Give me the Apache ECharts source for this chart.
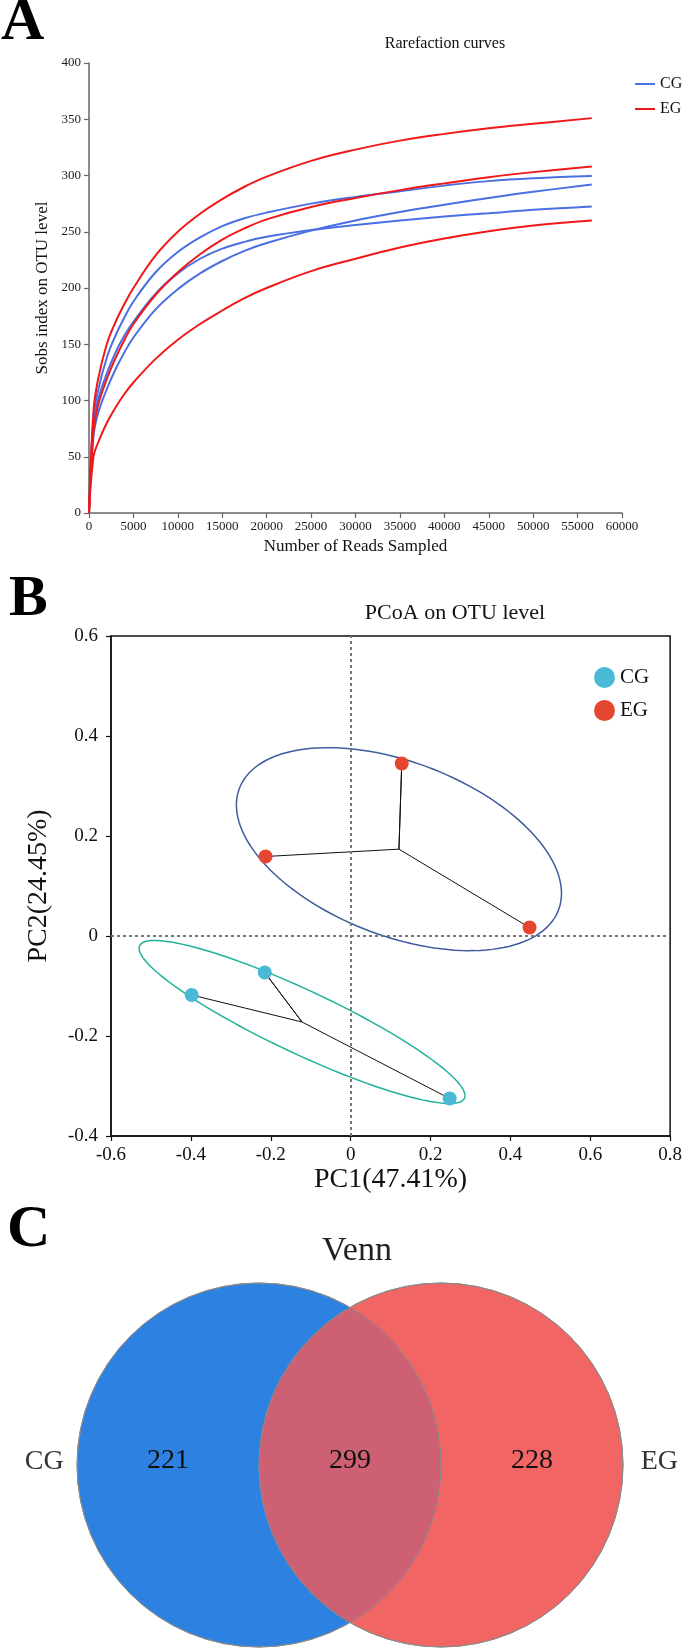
<!DOCTYPE html>
<html>
<head>
<meta charset="utf-8">
<script src="https://cdn.jsdelivr.net/npm/echarts@6/dist/echarts.min.js"></script>
<style>
html,body{margin:0;padding:0;background:#fff;}
#main{width:685px;height:1651px;}
</style>
</head>
<body>
<div id="main"></div>
<script>
// ---------- Panel A : rarefaction curves ----------
const readsSampled = [0,500,1000,2000,3000,4000,5000,7500,10000,12500,15000,17500,20000,25000,30000,35000,40000,45000,50000,56600];
const cgSample1 = [0,84,108,138,158,174,188,214,232,245,255,262,267,275,281,286,291,295,297.5,299.5];
const cgSample2 = [0,78,100,124,143,158,170,195,213,226,235,241,245.5,251.5,256,260,263.5,266.5,269.5,272.5];
const cgSample3 = [0,68,88,110,128,143,156,181,199,213,224,233,240,251,260,267.5,274,280,285.5,292];
const egSample1 = [0,90,118,150,170,186,200,229,250,266,279,290,299,313,323,331,337,342,346,351];
const egSample2 = [0,72,95,119,138,154,168,194,214,230,243,253,261,272,280,287,293,298.5,303,308];
const egSample3 = [0,50,62,80,94,106,116,137,154,168,180,191,200,215,226,236,244,250.5,255.5,260];

// ---------- Panel B : PCoA ----------
const pcoaCG = [[-0.398,-0.118],[-0.215,-0.073],[0.248,-0.325]];
const pcoaEG = [[-0.213,0.159],[0.128,0.345],[0.448,0.017]];
const ellipseHalfWidth  = [0.408, 0.407];   // CG, EG (PC1 units)
const ellipseHalfHeight = [0.163, 0.203];   // CG, EG (PC2 units)
const ellipseTilt       = [-0.904, -0.436]; // CG, EG correlation of the outline

// ---------- Panel C : Venn ----------
const vennSets = ['CG','EG'];
const vennCounts = [221, 299, 228]; // CG only, shared, EG only

// ---------- styles ----------
const FONT = "'Liberation Serif','Times New Roman',serif";
const lineColor = {CG:'#4a6fe3', EG:'#f01818'};
const pointColor = {CG:'#4ab9d5', EG:'#e5462f'};
const ellipseColor = {CG:'#22b29c', EG:'#3e5c9c'};
const vennFill = ['#2d82e1', '#f26565'];
const vennOverlap = '#cd6073';

const chart = echarts.init(document.getElementById('main'), null, {renderer:'canvas'});

function curveSeries(name, vals){
  return {
    type:'line', name:name, xAxisIndex:0, yAxisIndex:0,
    data: readsSampled.map((x,i)=>[x, vals[i]]),
    symbol:'none', showSymbol:false, smooth:0.4,
    lineStyle:{color:lineColor[name], width:2}, itemStyle:{color:lineColor[name]},
    silent:true, animation:false, z:2
  };
}

function centroid(pts){
  const n = pts.length;
  return [pts.reduce((s,p)=>s+p[0],0)/n, pts.reduce((s,p)=>s+p[1],0)/n];
}

function spokeSeries(pts){
  const c = centroid(pts);
  const d = [];
  pts.forEach((p,i)=>{ if(i>0) d.push(c); d.push(p); });
  return {
    type:'line', name:'', xAxisIndex:1, yAxisIndex:1, data:d,
    symbol:'none', showSymbol:false, lineStyle:{color:'#111', width:1},
    silent:true, animation:false, z:3
  };
}

const groupPts = {CG:pcoaCG, EG:pcoaEG};
const ellipseData = ['CG','EG'].map((g,i)=>{
  const c = centroid(groupPts[g]);
  return [c[0], c[1], ellipseHalfWidth[i], ellipseHalfHeight[i], ellipseTilt[i]];
});

const series = [
  curveSeries('CG', cgSample1),
  curveSeries('CG', cgSample2),
  curveSeries('CG', cgSample3),
  curveSeries('EG', egSample1),
  curveSeries('EG', egSample2),
  curveSeries('EG', egSample3),
  {
    type:'custom', name:'ellipse', xAxisIndex:1, yAxisIndex:1, data:ellipseData,
    silent:true, animation:false, z:2,
    renderItem:function(params, api){
      const cx=api.value(0), cy=api.value(1), hw=api.value(2), hh=api.value(3), r=api.value(4);
      const s = Math.sqrt(1-r*r);
      const pts = [];
      for(let k=0;k<=144;k++){
        const t = 2*Math.PI*k/144;
        pts.push(api.coord([cx+hw*Math.cos(t), cy+hh*(r*Math.cos(t)+s*Math.sin(t))]));
      }
      const g = params.dataIndex===0 ? 'CG' : 'EG';
      return {type:'polyline', shape:{points:pts}, style:{stroke:ellipseColor[g], fill:null, lineWidth:1.5}};
    }
  },
  spokeSeries(pcoaCG),
  spokeSeries(pcoaEG),
  {
    type:'scatter', name:'CG', xAxisIndex:1, yAxisIndex:1, data:pcoaCG,
    symbol:'circle', symbolSize:14, itemStyle:{color:pointColor.CG, opacity:1},
    silent:true, animation:false, z:5
  },
  {
    type:'scatter', name:'EG', xAxisIndex:1, yAxisIndex:1, data:pcoaEG,
    symbol:'circle', symbolSize:14, itemStyle:{color:pointColor.EG, opacity:1},
    silent:true, animation:false, z:5,
    markLine:{
      silent:true, symbol:'none', animation:false, label:{show:false},
      lineStyle:{type:[3,3], color:'#777', width:2},
      data:[{xAxis:0},{yAxis:0}]
    }
  },
  // Venn circles
  {
    type:'custom', name:'venn', xAxisIndex:2, yAxisIndex:2, silent:true, animation:false, z:1,
    data: vennSets.map((s,i)=>[i+1, 0]),
    renderItem:function(params, api){
      const c = api.coord([api.value(0), api.value(1)]);
      const r = api.size([1,0])[0];
      return {type:'circle', shape:{cx:c[0], cy:c[1], r:r}, style:{fill:vennFill[params.dataIndex], stroke:'#8a8a8a', lineWidth:1}};
    }
  },
  // Venn overlap lens
  {
    type:'custom', name:'venn overlap', xAxisIndex:2, yAxisIndex:2, silent:true, animation:false, z:2,
    data:[[1.5,0]],
    renderItem:function(params, api){
      const c1 = api.coord([1,0]), c2 = api.coord([2,0]);
      const r = api.size([1,0])[0];
      const d = c2[0]-c1[0];
      const th = Math.acos((d/2)/r);
      const pts = [];
      const N = 80;
      for(let k=0;k<=N;k++){ const a = -th + 2*th*k/N; pts.push([c1[0]+r*Math.cos(a), c1[1]+r*Math.sin(a)]); }
      for(let k=0;k<=N;k++){ const a = Math.PI - th + 2*th*k/N; pts.push([c2[0]+r*Math.cos(a), c2[1]+r*Math.sin(a)]); }
      return {type:'group', children:[
        {type:'polygon', shape:{points:pts}, style:{fill:vennOverlap, stroke:null}},
        {type:'circle', shape:{cx:c1[0], cy:c1[1], r:r}, style:{fill:null, stroke:'#8a8a8a', lineWidth:1}},
        {type:'circle', shape:{cx:c2[0], cy:c2[1], r:r}, style:{fill:null, stroke:'#8a8a8a', lineWidth:1}}
      ]};
    }
  },
  // Venn counts
  {
    type:'custom', name:'venn counts', xAxisIndex:2, yAxisIndex:2, silent:true, animation:false, z:3,
    data: vennCounts.map((n,i)=>[i+0.5, 0, n]),
    renderItem:function(params, api){
      const p = api.coord([api.value(0), api.value(1)]);
      return {type:'text', x:p[0], y:p[1]-4, style:{text:String(api.value(2)), fill:'#111',
        font:"28px 'Liberation Serif'", align:'center', verticalAlign:'middle', textAlign:'center', textVerticalAlign:'middle'}};
    }
  },
  // Venn set names
  {
    type:'custom', name:'venn sets', xAxisIndex:2, yAxisIndex:2, silent:true, animation:false, z:3,
    data: vennSets.map((s,i)=>[i===0 ? -0.18 : 3.2, 0]),
    renderItem:function(params, api){
      const p = api.coord([api.value(0), api.value(1)]);
      return {type:'text', x:p[0], y:p[1]-3, style:{text:vennSets[params.dataIndex], fill:'#333',
        font:"28px 'Liberation Serif'", align:'center', verticalAlign:'middle', textAlign:'center', textVerticalAlign:'middle'}};
    }
  }
];

const fmt1 = v => String(Math.round(v*10)/10);

const option = {
  backgroundColor:'#fff',
  animation:false,
  textStyle:{fontFamily:FONT},
  title:[
    {text:'Rarefaction curves', left:445, top:44, textAlign:'center', textVerticalAlign:'middle', padding:0,
     textStyle:{fontFamily:FONT, fontSize:16, fontWeight:'normal', color:'#111'}},
    {text:'PCoA on OTU level', left:455, top:613, textAlign:'center', textVerticalAlign:'middle', padding:0,
     textStyle:{fontFamily:FONT, fontSize:22, fontWeight:'normal', color:'#111'}},
    {text:'Venn', left:357, top:1251, textAlign:'center', textVerticalAlign:'middle', padding:0,
     textStyle:{fontFamily:FONT, fontSize:34, fontWeight:'normal', color:'#222'}}
  ],
  graphic:[
    {type:'text', x:1, y:23, style:{text:'A', font:"bold 60px 'Liberation Serif'", fill:'#000', textVerticalAlign:'middle', verticalAlign:'middle'}},
    {type:'text', x:9, y:600, style:{text:'B', font:"bold 58px 'Liberation Serif'", fill:'#000', textVerticalAlign:'middle', verticalAlign:'middle'}},
    {type:'text', x:7, y:1230, style:{text:'C', font:"bold 60px 'Liberation Serif'", fill:'#000', textVerticalAlign:'middle', verticalAlign:'middle'}}
  ],
  legend:[
    {orient:'vertical', left:630, top:71, itemWidth:20, itemHeight:2, itemGap:9, icon:'rect', selectedMode:false,
     data:[{name:'CG', itemStyle:{color:lineColor.CG, borderWidth:0}}, {name:'EG', itemStyle:{color:lineColor.EG, borderWidth:0}}],
     textStyle:{fontFamily:FONT, fontSize:16, color:'#111'}},
    {orient:'vertical', left:589, top:662, itemWidth:21, itemHeight:21, itemGap:12, icon:'circle', selectedMode:false,
     data:[{name:'CG', itemStyle:{color:pointColor.CG, borderWidth:0}}, {name:'EG', itemStyle:{color:pointColor.EG, borderWidth:0}}],
     textStyle:{fontFamily:FONT, fontSize:21, color:'#111'}}
  ],
  grid:[
    {left:89, top:63, width:533, height:450},
    {left:111, top:636, width:560, height:500, show:true, borderColor:'#111', borderWidth:1.5},
    {left:77, top:1283, width:546, height:364}
  ],
  xAxis:[
    {type:'value', gridIndex:0, min:0, max:60000, interval:5000,
     axisLine:{show:true, lineStyle:{color:'#666', width:1.5}},
     axisTick:{show:true, length:5, lineStyle:{color:'#666', width:1.2}},
     axisLabel:{fontFamily:FONT, fontSize:13, color:'#1a1a1a', margin:7, formatter:v=>String(v)},
     splitLine:{show:false},
     name:'Number of Reads Sampled', nameLocation:'middle', nameGap:25,
     nameTextStyle:{fontFamily:FONT, fontSize:17, color:'#111'}},
    {type:'value', gridIndex:1, min:-0.6, max:0.8, interval:0.2,
     axisLine:{show:true, onZero:false, lineStyle:{color:'#111', width:1.5}},
     axisTick:{show:true, length:5, lineStyle:{color:'#111', width:1.2}},
     axisLabel:{fontFamily:FONT, fontSize:19, color:'#111', margin:10, formatter:fmt1},
     splitLine:{show:false},
     name:'PC1(47.41%)', nameLocation:'middle', nameGap:29,
     nameTextStyle:{fontFamily:FONT, fontSize:28, color:'#111'}},
    {type:'value', gridIndex:2, min:0, max:3, show:false}
  ],
  yAxis:[
    {type:'value', gridIndex:0, min:0, max:400, interval:50,
     axisLine:{show:true, lineStyle:{color:'#666', width:1.5}},
     axisTick:{show:true, length:5, lineStyle:{color:'#666', width:1.2}},
     axisLabel:{fontFamily:FONT, fontSize:13, color:'#1a1a1a', margin:8},
     splitLine:{show:false},
     name:'Sobs index on OTU level', nameLocation:'middle', nameGap:31,
     nameTextStyle:{fontFamily:FONT, fontSize:17, color:'#111'}},
    {type:'value', gridIndex:1, min:-0.4, max:0.6, interval:0.2,
     axisLine:{show:true, onZero:false, lineStyle:{color:'#111', width:1.5}},
     axisTick:{show:true, length:5, lineStyle:{color:'#111', width:1.2}},
     axisLabel:{fontFamily:FONT, fontSize:19, color:'#111', margin:13, formatter:fmt1},
     splitLine:{show:false},
     name:'PC2(24.45%)', nameLocation:'middle', nameGap:58,
     nameTextStyle:{fontFamily:FONT, fontSize:28, color:'#111'}},
    {type:'value', gridIndex:2, min:-1, max:1, show:false}
  ],
  series:series
};

chart.setOption(option);
</script>
</body>
</html>
